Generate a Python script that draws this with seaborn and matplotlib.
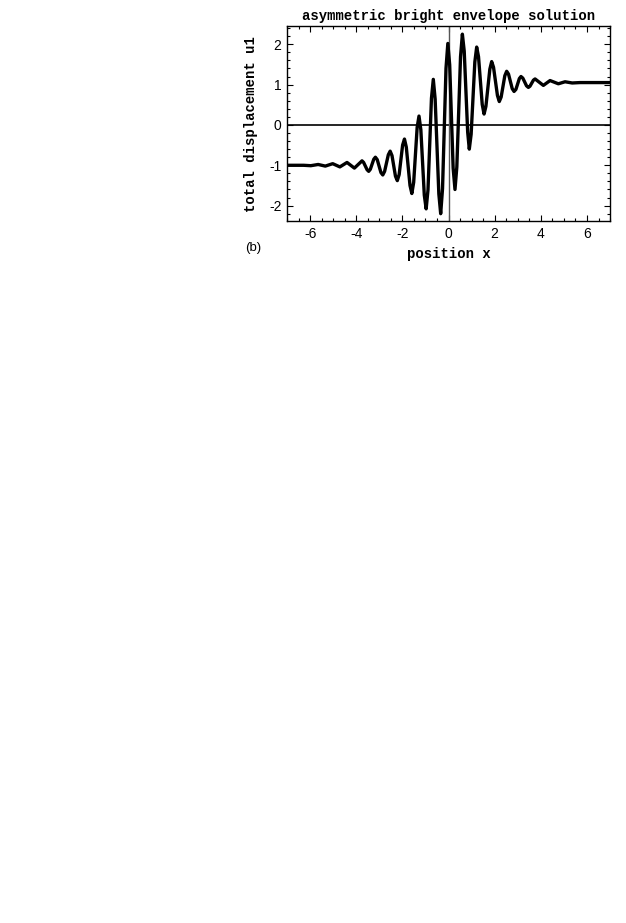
import matplotlib
matplotlib.use('Agg')
import matplotlib.pyplot as plt
from matplotlib.ticker import MultipleLocator
import seaborn as sns

# values in the reference picture
position_x = [-7.0, -6.28, -5.97, -5.65, -5.34, -5.02, -4.71, -4.40, -4.08, -3.75,
              -3.68, -3.53, -3.46, -3.39, -3.24, -3.17, -3.09, -2.93, -2.85, -2.77,
              -2.61, -2.53, -2.45, -2.30, -2.22, -2.14, -1.99, -1.91, -1.83, -1.67,
              -1.59, -1.51, -1.36, -1.28, -1.20, -1.05, -0.97, -0.89, -0.74, -0.66,
              -0.58, -0.42, -0.34, -0.26, -0.11, -0.03, 0.05, 0.20, 0.28, 0.36,
              0.52, 0.60, 0.68, 0.83, 0.90, 0.98, 1.14, 1.22, 1.30, 1.46,
              1.54, 1.62, 1.79, 1.87, 1.95, 2.12, 2.20, 2.28, 2.44, 2.52,
              2.60, 2.76, 2.84, 2.92, 3.07, 3.14, 3.22, 3.38, 3.46, 3.53,
              3.68, 3.75, 4.11, 4.40, 4.76, 5.05, 5.36, 5.70, 7.0]
displacement_u1 = [-1.00, -1.00, -1.01, -0.98, -1.02, -0.96, -1.04, -0.93, -1.07, -0.89,
                   -0.93, -1.11, -1.15, -1.10, -0.85, -0.80, -0.86, -1.18, -1.24, -1.15,
                   -0.74, -0.65, -0.76, -1.27, -1.38, -1.23, -0.50, -0.35, -0.55, -1.50,
                   -1.70, -1.42, -0.06, 0.22, -0.12, -1.74, -2.08, -1.61, 0.66, 1.13,
                   0.64, -1.71, -2.20, -1.58, 1.40, 2.02, 1.49, -1.07, -1.60, -1.04,
                   1.69, 2.25, 1.83, -0.18, -0.60, -0.23, 1.56, 1.93, 1.69, 0.51,
                   0.27, 0.46, 1.38, 1.57, 1.43, 0.73, 0.58, 0.69, 1.22, 1.33,
                   1.26, 0.90, 0.83, 0.88, 1.15, 1.20, 1.16, 0.97, 0.93, 0.96,
                   1.11, 1.14, 0.98, 1.10, 1.02, 1.07, 1.04, 1.05, 1.05]

x_ticks = [-6, -4, -2, 0, 2, 4, 6]
y_ticks = [-2, -1, 0, 1, 2]

sns.set_style('ticks')
plt.rcParams['font.family'] = ['Liberation Sans', 'DejaVu Sans']
plt.rcParams['axes.unicode_minus'] = False
plt.rcParams['text.color'] = 'black'
plt.rcParams['axes.labelcolor'] = 'black'
plt.rcParams['xtick.color'] = 'black'
plt.rcParams['ytick.color'] = 'black'

fig = plt.figure(figsize=(6.26, 9.23), dpi=100)
ax = fig.add_axes([0.4585, 0.7606, 0.516, 0.2107])

# axes lines through the origin
ax.axhline(0, color='black', lw=1.2, zorder=1)
ax.axvline(0, color='#555555', lw=1.0, zorder=1)

sns.lineplot(x=position_x, y=displacement_u1, ax=ax, color='black', linewidth=2.4, zorder=3)

ax.set_xlim(-7, 7)
ax.set_ylim(-2.38, 2.44)
ax.set_xticks(x_ticks)
ax.set_yticks(y_ticks)
ax.xaxis.set_minor_locator(MultipleLocator(0.5))
ax.yaxis.set_minor_locator(MultipleLocator(0.2))
ax.tick_params(which='both', direction='in', top=True, right=True, color='black', width=0.8)
ax.tick_params(which='major', length=4, labelsize=10, pad=4, labelcolor='black')
ax.tick_params(which='minor', length=2)
for s in ax.spines.values():
    s.set_color('black')
    s.set_linewidth(1.0)

mono = ['Liberation Mono', 'DejaVu Sans Mono']
ax.set_title('asymmetric bright envelope solution', family=mono, fontweight='bold', fontsize=10, pad=5,
             color='black')
ax.set_xlabel('position x', family=mono, fontweight='bold', fontsize=10, color='black')
ax.set_ylabel('total displacement u1', family=mono, fontweight='bold', fontsize=10, color='black')
ax.xaxis.set_label_coords(0.5, -0.135)
ax.yaxis.set_label_coords(-0.09, 0.5)

fig.text(253 / 626, 1 - 248 / 923, '(b)', fontsize=9.5, ha='center', va='center', color='black')

plt.savefig('out.png', dpi=100, facecolor='white')
